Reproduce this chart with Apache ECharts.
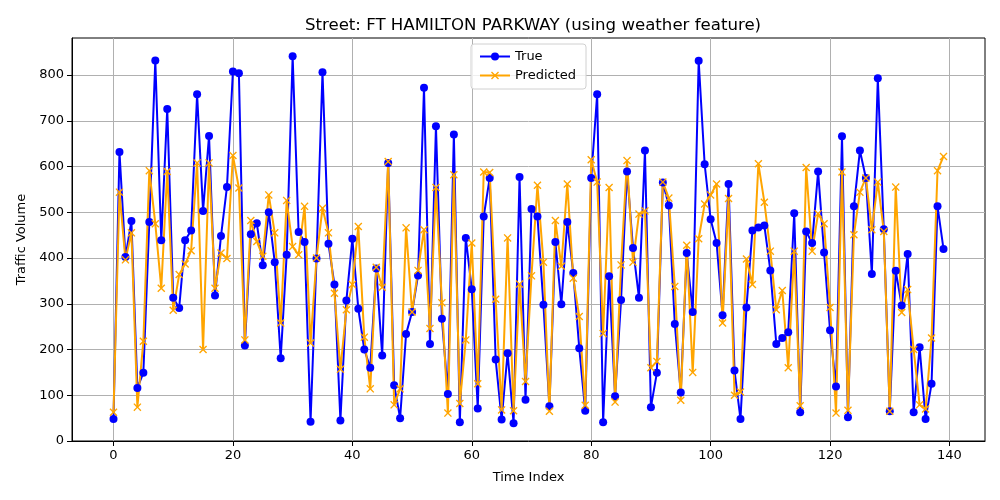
<!DOCTYPE html>
<html><head><meta charset="utf-8">
<script src="https://cdn.jsdelivr.net/npm/echarts@6/dist/echarts.min.js"></script>
<style>html,body{margin:0;padding:0;background:#fff}#c{width:1000px;height:500px}</style>
</head><body><div id="c"></div>
<script>
const trueVals = [48,632,402,481,116,149,479,832,439,726,
313,291,439,460,758,503,667,318,448,555,
808,804,209,452,476,384,500,391,181,407,
841,457,435,42,399,806,431,342,45,307,
442,289,200,160,377,187,608,122,50,234,
282,362,772,212,688,267,103,670,41,444,
332,71,491,575,178,47,192,39,577,90,
507,491,298,76,435,299,479,367,203,66,
575,758,41,360,98,308,589,422,313,635,
74,149,565,515,256,106,411,282,831,605,
485,433,275,562,154,48,292,460,467,471,
373,212,225,238,498,63,458,433,589,412,
242,119,666,52,513,635,575,365,793,463,
65,372,296,409,63,205,48,125,513,420];
const predVals = [63,544,396,455,74,218,591,475,334,589,
286,364,387,416,608,200,608,334,411,399,
624,553,221,482,436,404,538,455,258,526,
425,407,513,214,400,509,455,323,157,287,
342,469,227,114,380,336,611,79,114,466,
282,373,462,246,554,302,61,582,82,221,
433,125,588,587,310,68,444,66,343,130,
361,559,391,65,482,382,562,356,272,78,
615,566,235,554,85,385,613,391,496,503,
160,174,566,531,338,89,428,150,442,518,
538,562,258,530,100,107,398,342,606,522,
415,287,329,160,415,77,598,415,497,475,
292,61,588,67,451,544,575,462,566,458,
65,555,281,331,200,79,70,225,591,622];
const xTicks = [0,20,40,60,80,100,120,140];
const yTicks = [0,100,200,300,400,500,600,700,800];
const titleText = 'Street: FT HAMILTON PARKWAY (using weather feature)';

const font = 'DejaVu Sans';
const xMark = 'path://M0,1.2 L1.2,0 L5,3.8 L8.8,0 L10,1.2 L6.2,5 L10,8.8 L8.8,10 L5,6.2 L1.2,10 L0,8.8 L3.8,5 Z';
const chart = echarts.init(document.getElementById('c'));
const axisCommon = {
  axisLine: {show: true, onZero: false, lineStyle: {color: '#000', width: 1}},
  axisTick: {show: true, inside: false, length: 5, lineStyle: {color: '#000'}},
  axisLabel: {color: '#000', fontFamily: font, fontSize: 13},
  splitLine: {show: true, lineStyle: {color: '#b0b0b0', width: 1}},
  nameTextStyle: {color: '#000', fontFamily: font, fontSize: 13}
};
chart.setOption({
  animation: false,
  textStyle: {fontFamily: font},
  title: {text: titleText, left: 528, top: 12, textAlign: 'center',
    textStyle: {fontFamily: font, fontSize: 16.6, fontWeight: 'normal', color: '#000'}},
  legend: {orient: 'vertical', left: 471, top: 44, itemWidth: 30, itemHeight: 10, itemGap: 6,
    padding: [6, 10, 7, 8], borderColor: '#d0d0d0', borderWidth: 1, borderRadius: 3,
    backgroundColor: 'rgba(255,255,255,0.8)',
    textStyle: {fontFamily: font, fontSize: 13, color: '#000'},
    data: ['True', 'Predicted']},
  grid: {left: 72, right: 15, top: 38, bottom: 59, show: true, borderColor: '#000', borderWidth: 1, backgroundColor: 'transparent'},
  xAxis: Object.assign({}, axisCommon, {type: 'value', min: -6.95, max: 145.95,
    name: 'Time Index', nameLocation: 'middle', nameGap: 30,
    axisTick: Object.assign({}, axisCommon.axisTick, {customValues: xTicks}),
    axisLabel: Object.assign({}, axisCommon.axisLabel, {customValues: xTicks, margin: 8})}),
  yAxis: Object.assign({}, axisCommon, {type: 'value', min: 0, max: 881,
    name: 'Traffic Volume', nameLocation: 'middle', nameGap: 44,
    axisTick: Object.assign({}, axisCommon.axisTick, {customValues: yTicks}),
    axisLabel: Object.assign({}, axisCommon.axisLabel, {customValues: yTicks, margin: 8})}),
  series: [
    {name: 'True', type: 'line', data: trueVals.map((v, i) => [i, v]),
      symbol: 'circle', symbolSize: 8, showAllSymbol: true,
      lineStyle: {color: '#0000ff', width: 2}, itemStyle: {color: '#0000ff'}, color: '#0000ff'},
    {name: 'Predicted', type: 'line', data: predVals.map((v, i) => [i, v]),
      symbol: xMark, symbolSize: 8, showAllSymbol: true,
      lineStyle: {color: '#ffa500', width: 2}, itemStyle: {color: '#ffa500'}, color: '#ffa500'}
  ]
});
</script></body></html>
